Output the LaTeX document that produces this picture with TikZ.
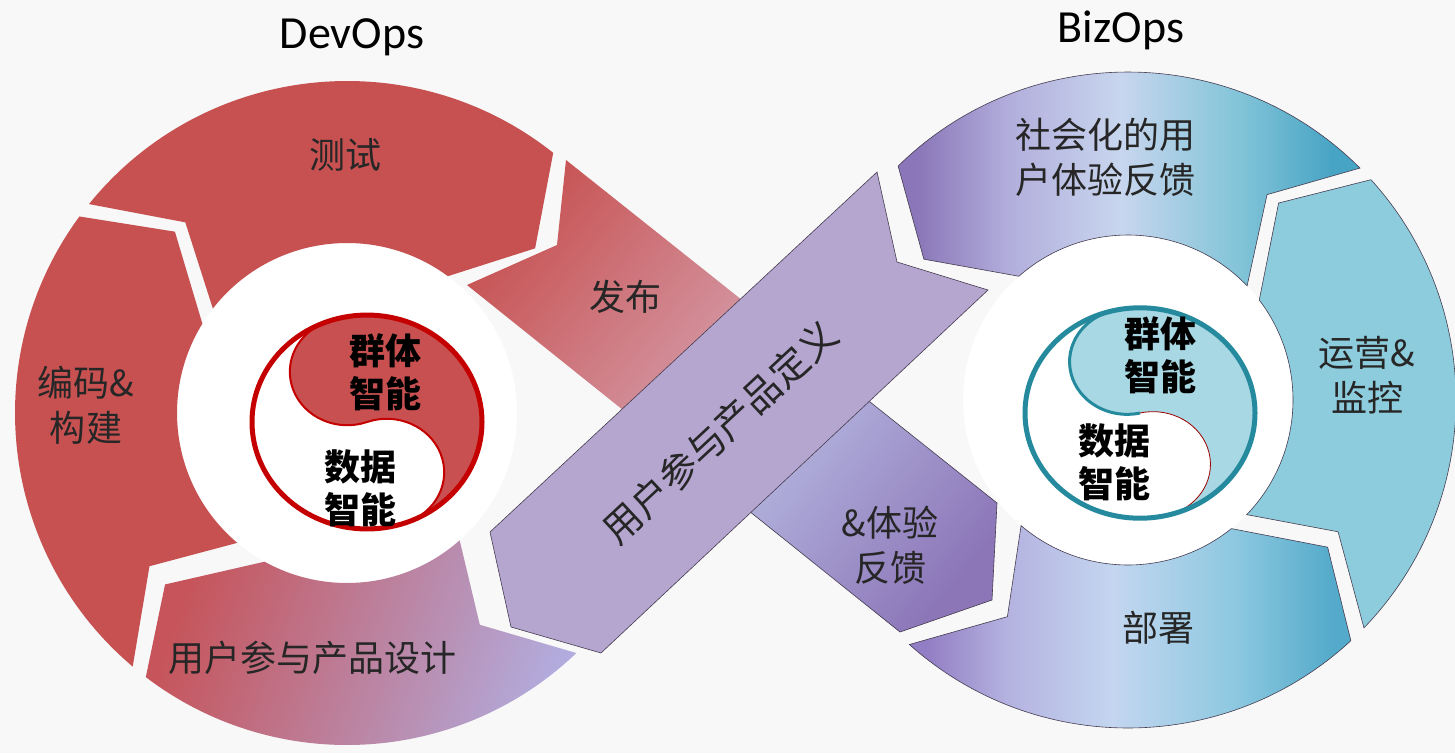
\documentclass[tikz,border=0pt]{standalone}
\usepackage{fontspec}
\newfontfamily\cjk{Noto Sans CJK SC}
\newfontfamily\lat{Carlito}
\definecolor{bg}{RGB}{248,248,248}
\definecolor{lred}{RGB}{199,81,81}
\definecolor{pinkish}{RGB}{214,162,176}
\definecolor{ppl}{RGB}{139,118,182}
\definecolor{lav}{RGB}{181,166,208}
\definecolor{teal}{RGB}{72,165,195}
\definecolor{lteal}{RGB}{141,204,220}
\definecolor{ytealfill}{RGB}{168,216,227}
\definecolor{ytealline}{RGB}{38,138,158}
\definecolor{yred}{RGB}{196,0,0}
\definecolor{yredfill}{RGB}{200,80,80}
\definecolor{edge}{RGB}{70,60,80}
\definecolor{sA}{RGB}{138,118,184}
\definecolor{sB}{RGB}{178,174,220}
\definecolor{sC}{RGB}{200,214,238}
\definecolor{sD}{RGB}{130,196,216}
\definecolor{sE}{RGB}{72,164,196}
\definecolor{dA}{RGB}{146,126,196}
\definecolor{dB}{RGB}{180,178,224}
\definecolor{dC}{RGB}{196,214,240}
\definecolor{dD}{RGB}{140,200,224}
\definecolor{dE}{RGB}{84,170,202}
\pgfdeclarehorizontalshading{socialsh}{100bp}{color(0bp)=(sA); color(27bp)=(sA); color(37bp)=(sB); color(49bp)=(sC); color(62bp)=(sD); color(72bp)=(sE); color(100bp)=(sE)}
\pgfdeclarehorizontalshading{deploysh}{100bp}{color(0bp)=(dA); color(27bp)=(dA); color(36bp)=(dB); color(48bp)=(dC); color(62bp)=(dD); color(73bp)=(dE); color(100bp)=(dE)}
\begin{document}
\begin{tikzpicture}[x=1pt,y=-1pt,
  seg/.style={line width=0.6pt, draw=edge},
  lbl/.style={font={\cjk\fontsize{36}{45}\selectfont}, align=center, text=black!85},
  ylbl/.style={font={\cjk\bfseries\fontsize{36}{43}\selectfont}, align=center, text=black},
  ttl/.style={font={\lat\fontsize{46}{50}\selectfont}, text=black}]
\useasboundingbox (0,0) rectangle (1455,753);
\fill[bg] (0,0) rectangle (1455,753);

% ---------- left ring (DevOps) ----------
\begin{scope}[shift={(347,413)}]
  \fill[white] (0,0) circle[radius=170];
  % coding & build
  \fill[lred] (130.2:332) arc[start angle=130.2, end angle=216.3, radius=332]
     -- (226.5:250) -- (211.7:170) arc[start angle=211.7, end angle=130.2, radius=170]
     -- (142.2:250) -- cycle;
  % test
  \fill[lred] (219:332) arc[start angle=219, end angle=308.4, radius=332]
     -- (318.8:250) -- (306.4:170) arc[start angle=306.4, end angle=217.9, radius=170]
     -- (229.7:250) -- cycle;
  % user design
  \path[left color={rgb,255:red,198;green,84;blue,90}, middle color={rgb,255:red,206;green,150;blue,176},
        right color={rgb,255:red,178;green,172;blue,222}, shading angle=70]
     (46.3:332) arc[start angle=46.3, end angle=127.3, radius=332]
     -- (136.7:250) -- (119:170) arc[start angle=119, end angle=48.5, radius=170]
     -- (57.9:250) -- cycle;
\end{scope}

% ---------- right ring (BizOps) ----------
\begin{scope}[shift={(1128,400)}]
  \fill[white] (0,0) circle[radius=165];
  % deploy
  \path[seg, shading=deploysh]
     (131.8:328) arc[start angle=131.8, end angle=47.2, radius=328]
     -- (36.4:248) -- (51.2:165) arc[start angle=51.2, end angle=130.4, radius=165]
     -- (119.1:248) -- cycle;
  % operations & monitoring
  \path[seg, fill=lteal]
     (44:328) arc[start angle=44, end angle=-42.2, radius=328]
     -- (-52.6:248) -- (-37.3:165) arc[start angle=-37.3, end angle=44, radius=165]
     -- (32.1:248) -- cycle;
  % social feedback
  \path[seg, shading=socialsh]
     (-45:328) arc[start angle=-45, end angle=-134.5, radius=328]
     -- (-145.4:248) -- (-131.4:165) arc[start angle=-131.4, end angle=-43.8, radius=165]
     -- (-55.9:248) -- cycle;
\end{scope}

% ---------- release / experience band ----------
\path[left color=lred, right color=pinkish, shading angle=51]
  (566,160) -- (557,245) -- (467,285) -- (683.5,458.5) -- (781.5,331.5) -- cycle;
\path[seg, left color={rgb,255:red,192;green,200;blue,234}, right color={rgb,255:red,140;green,118;blue,184}, shading angle=51]
  (781.5,331.5) -- (683.5,458.5) -- (900,632) -- (992,600) -- (997,503) -- cycle;

% ---------- product definition band ----------
\path[seg, fill=lav]
  (877,172) -- (897,262) -- (988,290) -- (601,653) -- (511,627) -- (490,532) -- cycle;

% ---------- left yin-yang ----------
\begin{scope}[shift={(367,422)}, yscale=0.93]
  \fill[white] (0,0) circle[radius=115];
  \path[fill=yredfill, draw=yred, line width=2pt]
    (250:115) arc[start angle=250, end angle=430, radius=115]
    arc[start angle=70, end angle=-110, radius=57.5]
    arc[start angle=70, end angle=250, radius=57.5] -- cycle;
  \draw[yred, line width=5pt] (0,0) circle[radius=115];
\end{scope}

% ---------- right yin-yang ----------
\begin{scope}[shift={(1140,413)}, yscale=0.915]
  \fill[white] (0,0) circle[radius=115];
  \fill[ytealfill]
    (257:115) arc[start angle=257, end angle=437, radius=115]
    arc[start angle=77, end angle=-103, radius=57.5]
    arc[start angle=77, end angle=257, radius=57.5] -- cycle;
  \draw[ytealline, line width=3pt] (0,0) arc[start angle=77, end angle=257, radius=57.5];
  \draw[yred!80!black, line width=0.8pt] (77:115) arc[start angle=77, end angle=-103, radius=57.5];
  \draw[ytealline, line width=5pt] (0,0) circle[radius=115];
\end{scope}

% ---------- labels ----------
\node[ttl] (devops) at (352,37) {DevOps};
\node[ttl] (bizops) at (1121,30) {BizOps};
\node[lbl] (test) at (345,155) {测试};
\node[lbl] (code) at (86,405) {编码\&\\构建};
\node[lbl] (release) at (625,297) {发布};
\node[lbl] (design) at (312,658) {用户参与产品设计};
\node[lbl] (social) at (1105,157) {社会化的用\\户体验反馈};
\node[lbl] (ops) at (1367,375) {运营\&\\监控};
\node[lbl] (deploy) at (1158,628) {部署};
\node[lbl] (feedback) at (890,545) {\&体验\\反馈};
\node[lbl, font={\cjk\fontsize{38}{44}\selectfont}, rotate=43] (define) at (720,432) {用户参与产品定义};
\node[ylbl] (lswarm) at (385,372) {群体\\智能};
\node[ylbl] (ldata) at (360,488) {数据\\智能};
\node[ylbl] (rswarm) at (1160,355) {群体\\智能};
\node[ylbl] (rdata) at (1114,462) {数据\\智能};
\end{tikzpicture}
\end{document}
